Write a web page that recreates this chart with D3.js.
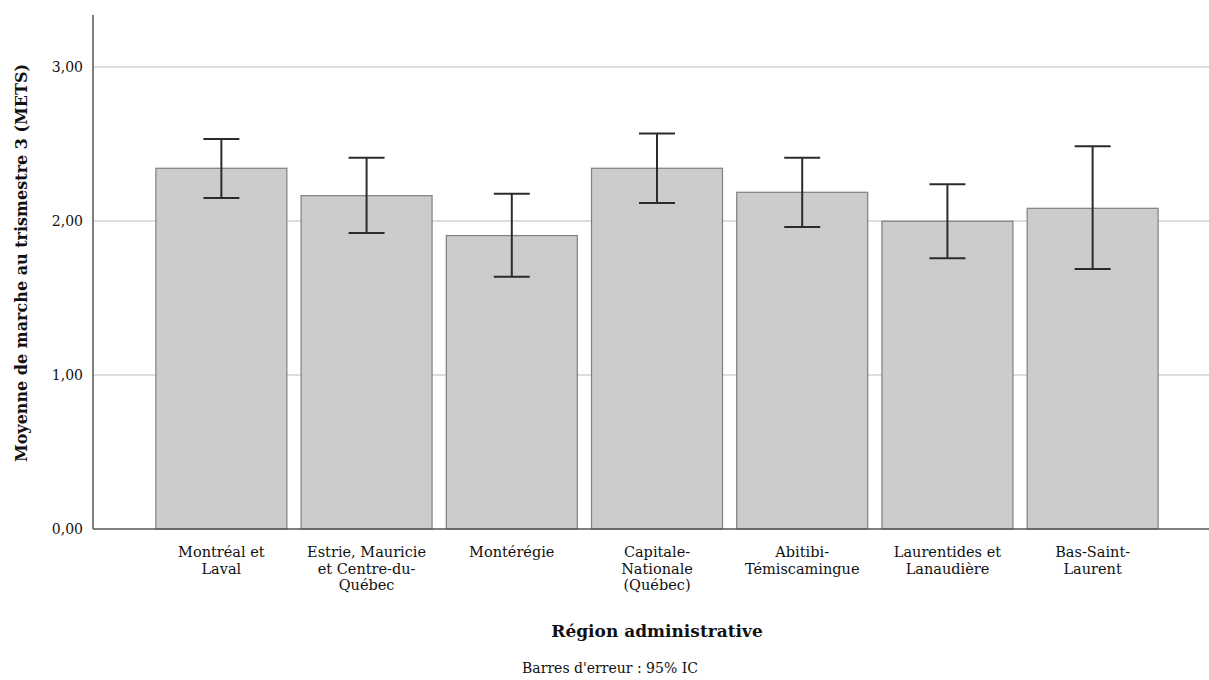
<!DOCTYPE html>
<html lang="fr">
<head>
    <meta charset="UTF-8">
    <title>Moyenne de marche par région</title>
    <script src="https://d3js.org/d3.v7.min.js"></script>
    <style>
        body { margin: 0; background: #fff; }
        text { font-family: "DejaVu Serif", "Liberation Serif", serif; fill: #111; }
    </style>
</head>
<body>
    <div id="chart"></div>
    <script>
        // Data
        const regions = [
            ["Montréal et", "Laval"],
            ["Estrie, Mauricie", "et Centre-du-", "Québec"],
            ["Montérégie"],
            ["Capitale-", "Nationale", "(Québec)"],
            ["Abitibi-", "Témiscamingue"],
            ["Laurentides et", "Lanaudière"],
            ["Bas-Saint-", "Laurent"]
        ];
        const means = [2.342, 2.164, 1.905, 2.342, 2.186, 1.998, 2.082];
        const ciLow = [2.149, 1.922, 1.638, 2.117, 1.961, 1.758, 1.688];
        const ciHigh = [2.532, 2.411, 2.177, 2.567, 2.411, 2.238, 2.485];
        const yTicks = [0, 1, 2, 3];

        const width = 1209, height = 680;
        const x0 = 93, x1 = 1221, yBase = 529, yTop = 15;

        const svg = d3.select("#chart").append("svg")
            .attr("width", width)
            .attr("height", height);

        const keys = regions.map((d, i) => i);

        const x = d3.scaleBand()
            .domain(keys)
            .range([x0, x1])
            .paddingInner(0.098)
            .paddingOuter(0.433);

        const y = d3.scaleLinear()
            .domain([0, 3.337])
            .range([yBase, yTop]);

        // grid lines
        svg.append("g")
            .selectAll("line")
            .data(yTicks.filter(d => d > 0))
            .enter().append("line")
            .attr("x1", x0).attr("x2", width)
            .attr("y1", d => y(d)).attr("y2", d => y(d))
            .attr("stroke", "#d2d2d2")
            .attr("stroke-width", 1.5);

        // bars
        svg.append("g")
            .selectAll("rect")
            .data(means)
            .enter().append("rect")
            .attr("x", (d, i) => x(i))
            .attr("y", d => y(d))
            .attr("width", x.bandwidth())
            .attr("height", d => y(0) - y(d))
            .attr("fill", "#cccccc")
            .attr("stroke", "#7f7f7f")
            .attr("stroke-width", 1.2);

        // error bars
        const capW = 36;
        const err = svg.append("g")
            .selectAll("g")
            .data(keys)
            .enter().append("g")
            .attr("stroke", "#2b2b2b")
            .attr("stroke-width", 2);

        err.append("line")
            .attr("x1", i => x(i) + x.bandwidth() / 2)
            .attr("x2", i => x(i) + x.bandwidth() / 2)
            .attr("y1", i => y(ciLow[i]))
            .attr("y2", i => y(ciHigh[i]));
        err.append("line")
            .attr("x1", i => x(i) + x.bandwidth() / 2 - capW / 2)
            .attr("x2", i => x(i) + x.bandwidth() / 2 + capW / 2)
            .attr("y1", i => y(ciHigh[i]))
            .attr("y2", i => y(ciHigh[i]));
        err.append("line")
            .attr("x1", i => x(i) + x.bandwidth() / 2 - capW / 2)
            .attr("x2", i => x(i) + x.bandwidth() / 2 + capW / 2)
            .attr("y1", i => y(ciLow[i]))
            .attr("y2", i => y(ciLow[i]));

        // axes
        svg.append("line")
            .attr("x1", x0).attr("x2", x0)
            .attr("y1", yTop).attr("y2", yBase)
            .attr("stroke", "#555").attr("stroke-width", 1.5);
        svg.append("line")
            .attr("x1", x0).attr("x2", width)
            .attr("y1", yBase).attr("y2", yBase)
            .attr("stroke", "#555").attr("stroke-width", 1.5);

        svg.append("g")
            .selectAll("text")
            .data(yTicks)
            .enter().append("text")
            .attr("x", x0 - 10)
            .attr("y", d => y(d) + 5)
            .attr("text-anchor", "end")
            .style("font-size", "14px")
            .text(d => d.toFixed(2).replace(".", ","));

        // category labels
        const lab = svg.append("g")
            .selectAll("text")
            .data(keys)
            .enter().append("text")
            .attr("text-anchor", "middle")
            .attr("transform", i => `translate(${x(i) + x.bandwidth() / 2},${yBase + 28})`)
            .style("font-size", "14.5px");
        lab.selectAll("tspan")
            .data(i => regions[i])
            .enter().append("tspan")
            .attr("x", 0)
            .attr("dy", (d, j) => j === 0 ? 0 : 16.5)
            .text(d => d);

        // titles
        svg.append("text")
            .attr("x", 657).attr("y", 637)
            .attr("text-anchor", "middle")
            .style("font-size", "17px")
            .style("font-weight", "bold")
            .text("Région administrative");

        svg.append("text")
            .attr("transform", `translate(27,${(yTop + yBase) / 2 - 9}) rotate(-90)`)
            .attr("text-anchor", "middle")
            .style("font-size", "16px")
            .style("font-weight", "bold")
            .text("Moyenne de marche au trismestre 3 (METS)");

        svg.append("text")
            .attr("x", 610).attr("y", 673)
            .attr("text-anchor", "middle")
            .style("font-size", "14px")
            .text("Barres d'erreur : 95% IC");
    </script>
</body>
</html>
